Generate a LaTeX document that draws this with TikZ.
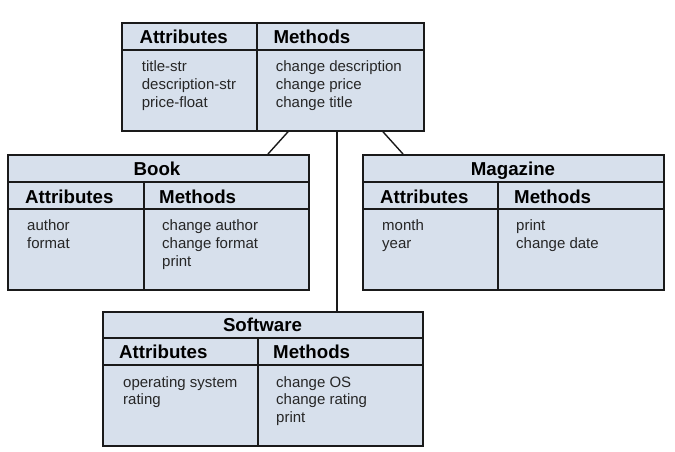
\documentclass[tikz,border=0pt]{standalone}
\usepackage{fontspec}
\setmainfont{Liberation Sans}
\definecolor{boxfill}{HTML}{D7E0EC}
\definecolor{edgecol}{HTML}{1A1A1A}
\tikzset{
  classbox/.style={draw=edgecol, line width=1.8pt, fill=boxfill, rectangle, inner sep=0pt, anchor=north west},
  sepline/.style={draw=edgecol, line width=1.3pt},
  titletext/.style={font=\fontsize{18.7}{20}\selectfont\bfseries, anchor=base, inner sep=0pt},
  headtext/.style={font=\fontsize{18.7}{20}\selectfont\bfseries, anchor=base west, inner sep=0pt},
  bodytext/.style={font=\fontsize{15}{17.5}\selectfont, anchor=base west, inner sep=0pt, text=black!85},
  link/.style={draw=edgecol, line width=1.4pt},
}
\begin{document}
\begin{tikzpicture}[x=1pt,y=-1pt]
\useasboundingbox (0,0) rectangle (675,452);

% ---- top (base) class ----
\node[classbox, minimum width=301.7pt, minimum height=108pt] (top) at (121,22) {};
\draw[sepline] (top.west |- 0,50) -- (top.east |- 0,50);
\draw[sepline] (257,0 |- top.north) -- (257,0 |- top.south);
\node[headtext] (top-ah) at (139.3,43.5) {Attributes};
\node[headtext] (top-mh) at (273.3,43.5) {Methods};
\node[bodytext] (top-a1) at (141.7,72) {title-str};
\node[bodytext] (top-a2) at (141.7,89.5) {description-str};
\node[bodytext] (top-a3) at (141.7,107) {price-float};
\node[bodytext] (top-m1) at (275.7,72) {change description};
\node[bodytext] (top-m2) at (275.7,89.5) {change price};
\node[bodytext] (top-m3) at (275.7,107) {change title};

% ---- Book ----
\node[classbox, minimum width=301pt, minimum height=135pt] (book) at (7,154) {};
\draw[sepline] (book.west |- 0,182) -- (book.east |- 0,182);
\draw[sepline] (book.west |- 0,209) -- (book.east |- 0,209);
\draw[sepline] (144,182) -- (144,0 |- book.south);
\node[titletext] (book-t) at (157,175) {Book};
\node[headtext] (book-ah) at (25,203) {Attributes};
\node[headtext] (book-mh) at (159,203) {Methods};
\node[bodytext] (book-a1) at (27,230.7) {author};
\node[bodytext] (book-a2) at (27,248.4) {format};
\node[bodytext] (book-m1) at (162,230.7) {change author};
\node[bodytext] (book-m2) at (162,248.4) {change format};
\node[bodytext] (book-m3) at (162,266) {print};

% ---- Magazine ----
\node[classbox, minimum width=301pt, minimum height=135pt] (mag) at (362,154) {};
\draw[sepline] (mag.west |- 0,182) -- (mag.east |- 0,182);
\draw[sepline] (mag.west |- 0,209) -- (mag.east |- 0,209);
\draw[sepline] (498,182) -- (498,0 |- mag.south);
\node[titletext] (mag-t) at (513,175) {Magazine};
\node[headtext] (mag-ah) at (380,203) {Attributes};
\node[headtext] (mag-mh) at (514,203) {Methods};
\node[bodytext] (mag-a1) at (382,230.7) {month};
\node[bodytext] (mag-a2) at (382,248.4) {year};
\node[bodytext] (mag-m1) at (516,230.7) {print};
\node[bodytext] (mag-m2) at (516,248.4) {change date};

% ---- Software ----
\node[classbox, minimum width=320pt, minimum height=134pt] (soft) at (102,311) {};
\draw[sepline] (soft.west |- 0,338) -- (soft.east |- 0,338);
\draw[sepline] (soft.west |- 0,365) -- (soft.east |- 0,365);
\draw[sepline] (258,338) -- (258,0 |- soft.south);
\node[titletext] (soft-t) at (262.5,331) {Software};
\node[headtext] (soft-ah) at (119,358) {Attributes};
\node[headtext] (soft-mh) at (273,358) {Methods};
\node[bodytext] (soft-a1) at (123,387) {operating system};
\node[bodytext] (soft-a2) at (123,404.5) {rating};
\node[bodytext] (soft-m1) at (276,387) {change OS};
\node[bodytext] (soft-m2) at (276,404.5) {change rating};
\node[bodytext] (soft-m3) at (276,422) {print};

% ---- connectors ----
\coordinate (c-book-a) at (288,0 |- top.south);
\coordinate (c-book-b) at (268,0 |- book.north);
\coordinate (c-soft-a) at (337,0 |- top.south);
\coordinate (c-soft-b) at (337,0 |- soft.north);
\coordinate (c-mag-a) at (383,0 |- top.south);
\coordinate (c-mag-b) at (403,0 |- mag.north);
\draw[link] (c-book-a) -- (c-book-b);
\draw[link] (c-soft-a) -- (c-soft-b);
\draw[link] (c-mag-a) -- (c-mag-b);
\end{tikzpicture}
\end{document}
